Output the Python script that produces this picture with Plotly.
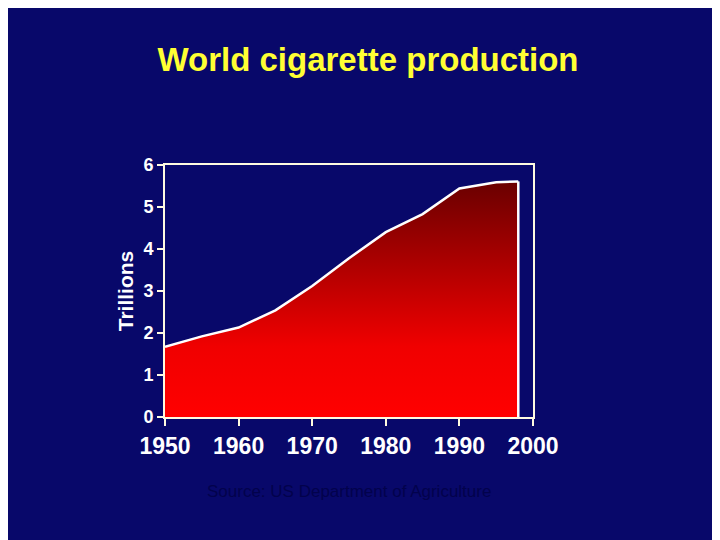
import plotly.graph_objects as go

years = [1950, 1955, 1960, 1965, 1970, 1975, 1980, 1985, 1990, 1995, 1998]
production = [1.67, 1.92, 2.13, 2.54, 3.12, 3.78, 4.40, 4.83, 5.44, 5.59, 5.61]
xticks = [1950, 1960, 1970, 1980, 1990, 2000]
yticks = [0, 1, 2, 3, 4, 5, 6]

bg = "#08086a"
fig = go.Figure()
fig.add_trace(go.Scatter(
    x=years, y=production, mode="lines", fill="tozeroy",
    line=dict(color="white", width=2.5),
    fillgradient=dict(type="vertical",
                      colorscale=[[0, "#ff0000"], [0.3, "#f00000"], [1, "#6a0000"]]),
    hoverinfo="x+y"))
fig.add_trace(go.Scatter(x=[years[-1], years[-1]], y=[0, production[-1]], mode="lines",
                         line=dict(color="white", width=2.5), hoverinfo="skip"))
fig.update_layout(
    width=720, height=540, paper_bgcolor=bg, plot_bgcolor=bg, showlegend=False,
    margin=dict(l=157, r=195, t=157, b=131),
    title=dict(text="<b>World cigarette production</b>", x=0.5, xanchor="center",
               y=0.905, yanchor="middle",
               font=dict(family="Liberation Sans, Arial", size=33, color="#ffff33")),
    font=dict(family="Liberation Sans, Arial", color="white"),
)
fig.update_xaxes(range=[1950, 2000], tickvals=xticks,
                 ticktext=["<b>%d</b>" % v for v in xticks],
                 showgrid=False, zeroline=False, showline=True, linecolor="#fffbe0", linewidth=2,
                 mirror=True, ticks="outside", ticklen=7, tickcolor="#fffbe0", tickwidth=2,
                 tickfont=dict(size=23, color="white"))
fig.update_yaxes(range=[0, 6], tickvals=yticks,
                 ticktext=["<b>%d</b>" % v for v in yticks],
                 showgrid=False, zeroline=False, showline=True, linecolor="#fffbe0", linewidth=2,
                 mirror=True, ticks="outside", ticklen=6, tickcolor="#fffbe0", tickwidth=2,
                 tickfont=dict(size=18, color="white"),
                 title=dict(text="<b>Trillions</b>", font=dict(size=21, color="white"), standoff=4))
fig.add_annotation(text="Source: US Department of Agriculture", xref="paper", yref="paper",
                   x=0.5, y=-0.34, showarrow=False,
                   font=dict(size=17, color="#02024c", family="Liberation Sans, Arial"))
fig.write_html("out.html")
